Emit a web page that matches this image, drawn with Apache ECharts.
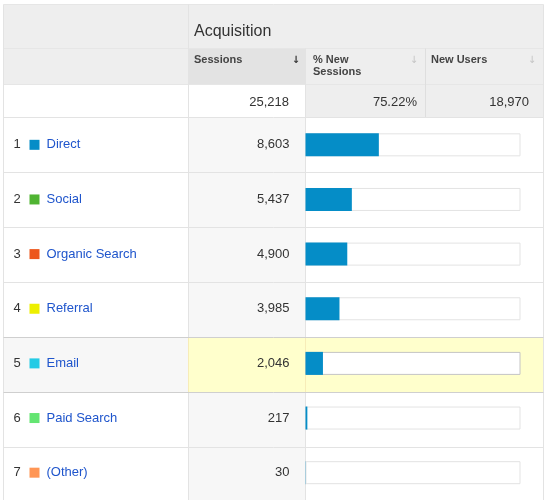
<!DOCTYPE html>
<html>
<head>
<meta charset="utf-8">
<script src="https://cdn.jsdelivr.net/npm/echarts@6/dist/echarts.min.js"></script>
<style>
  html, body { margin: 0; padding: 0; background: #fff; }
  #chart { width: 545px; height: 500px; }
</style>
</head>
<body>
<div id="chart"></div>
<script>
var channels = ['Direct', 'Social', 'Organic Search', 'Referral', 'Email', 'Paid Search', '(Other)'];
var channelColors = ['#058dc7', '#50b432', '#ed561b', '#edef00', '#24cbe5', '#64e572', '#ff9655'];
var sessions = [8603, 5437, 4900, 3985, 2046, 217, 30];
var totalSessions = 25218;
var totalNewPct = '75.22%';
var totalNewUsers = 18970;
var groupTitle = 'Acquisition';
var columns = ['Sessions', '% New\nSessions', 'New Users'];
var highlightRow = 4;

var font = '"Liberation Sans", Arial, sans-serif';
var lineColor = '#e3e3e3';

function fmt(n) {
  return n.toString().replace(/\B(?=(\d{3})+(?!\d))/g, ',');
}

var chart = echarts.init(document.getElementById('chart'));

// table background pieces
var g = [];
function rect(x, y, w, h, color) {
  g.push({ type: 'rect', z: -10, silent: true, shape: { x: x, y: y, width: w, height: h }, style: { fill: color } });
}
function line(x1, y1, x2, y2, color) {
  g.push({ type: 'line', z: -5, silent: true, shape: { x1: x1, y1: y1, x2: x2, y2: y2 }, style: { stroke: color, lineWidth: 1 } });
}
function text(x, y, str, opts) {
  g.push({
    type: 'text', z: 5, silent: true, x: x, y: y,
    style: Object.assign({ text: str, font: '13px ' + font, fill: '#333', textVerticalAlign: 'middle' }, opts || {})
  });
}

// header rows
rect(3.5, 4.5, 540, 80.5, '#eeeeee');
rect(188.5, 48.5, 117, 36.5, '#e3e3e3');
rect(305.5, 85, 238, 32, '#eeeeee');
// sessions column in body
rect(188.5, 117.5, 117, 385, '#f7f7f7');
// highlighted row
rect(3.5, 337.5, 185, 55, '#f7f7f7');
rect(188.5, 337.5, 355, 55, '#ffffcc');

line(3.5, 4.5, 543.5, 4.5, '#e6e6e6');
line(3.5, 48.5, 543.5, 48.5, '#e6e6e6');
line(3.5, 84.5, 543.5, 84.5, '#e6e6e6');
line(188.5, 4.5, 188.5, 500, lineColor);
line(305.5, 48.5, 305.5, 500, lineColor);
line(425.5, 48.5, 425.5, 117, '#dedede');
line(3.5, 4.5, 3.5, 500, lineColor);
line(543.5, 4.5, 543.5, 500, lineColor);
line(188.5, 337.5, 188.5, 392.5, '#f7ecb8');
line(305.5, 337.5, 305.5, 392.5, '#f7ecb8');
for (var r = 0; r < channels.length; r++) {
  var y = 117.5 + r * 55;
  var c = (r === highlightRow || r === highlightRow + 1) ? '#cfcfcf' : lineColor;
  line(3.5, y, 543.5, y, c);
}

// header texts
text(194, 32, groupTitle, { font: '16px ' + font, fill: '#333' });
text(194, 60, columns[0], { font: 'bold 11px ' + font, fill: '#444' });
text(313, 66, columns[1], { font: 'bold 11px ' + font, fill: '#444', lineHeight: 12 });
text(431, 60, columns[2], { font: 'bold 11px ' + font, fill: '#444' });
text(296, 60, '↓', { font: 'bold 10px "DejaVu Sans"', fill: '#333', textAlign: 'center' });
text(414, 60, '↓', { font: '10px "DejaVu Sans"', fill: '#c4c4c4', textAlign: 'center' });
text(532, 60, '↓', { font: '10px "DejaVu Sans"', fill: '#c4c4c4', textAlign: 'center' });

// totals
text(289, 102, fmt(totalSessions), { textAlign: 'right' });
text(417, 102, totalNewPct, { textAlign: 'right' });
text(529, 102, fmt(totalNewUsers), { textAlign: 'right' });

var rich = {
  n: { fontSize: 13, fontFamily: font, color: '#333', width: 16 },
  t: { fontSize: 13, fontFamily: font, color: '#1f55cc', padding: [0, 0, 0, 7] }
};
channelColors.forEach(function (col, i) {
  rich['sq' + i] = { width: 10, height: 10, backgroundColor: col };
});

var option = {
  animation: false,
  graphic: g,
  grid: { left: 305.5, top: 117.5, width: 215, height: 385 },
  xAxis: { type: 'value', min: 0, max: totalSessions, show: false },
  yAxis: [{
    type: 'category', inverse: true, data: channels, z: 5,
    axisLine: { show: false }, axisTick: { show: false }, splitLine: { show: false },
    axisLabel: {
      align: 'left', margin: 292,
      formatter: function (v, i) { return '{n|' + (i + 1) + '}{sq' + i + '|}{t|' + v + '}'; },
      rich: rich
    }
  }, {
    type: 'category', inverse: true, data: channels, position: 'left', z: 5,
    axisLine: { show: false }, axisTick: { show: false }, splitLine: { show: false },
    axisLabel: {
      align: 'right', margin: 16, fontSize: 13, fontFamily: font, color: '#333',
      formatter: function (v, i) { return fmt(sessions[i]); }
    }
  }],
  series: [{
    name: 'track', type: 'bar', barWidth: 23, silent: true,
    itemStyle: { color: '#fff', borderColor: '#e3e3e3', borderWidth: 1 },
    data: sessions.map(function (v, i) {
      return i === highlightRow ? { value: totalSessions, itemStyle: { borderColor: '#c4c4c4' } } : totalSessions;
    })
  }, {
    name: 'Sessions', type: 'bar', barWidth: 23, barGap: '-100%', silent: true,
    itemStyle: { color: '#058dc7' },
    data: sessions
  }]
};
chart.setOption(option);
</script>
</body>
</html>
